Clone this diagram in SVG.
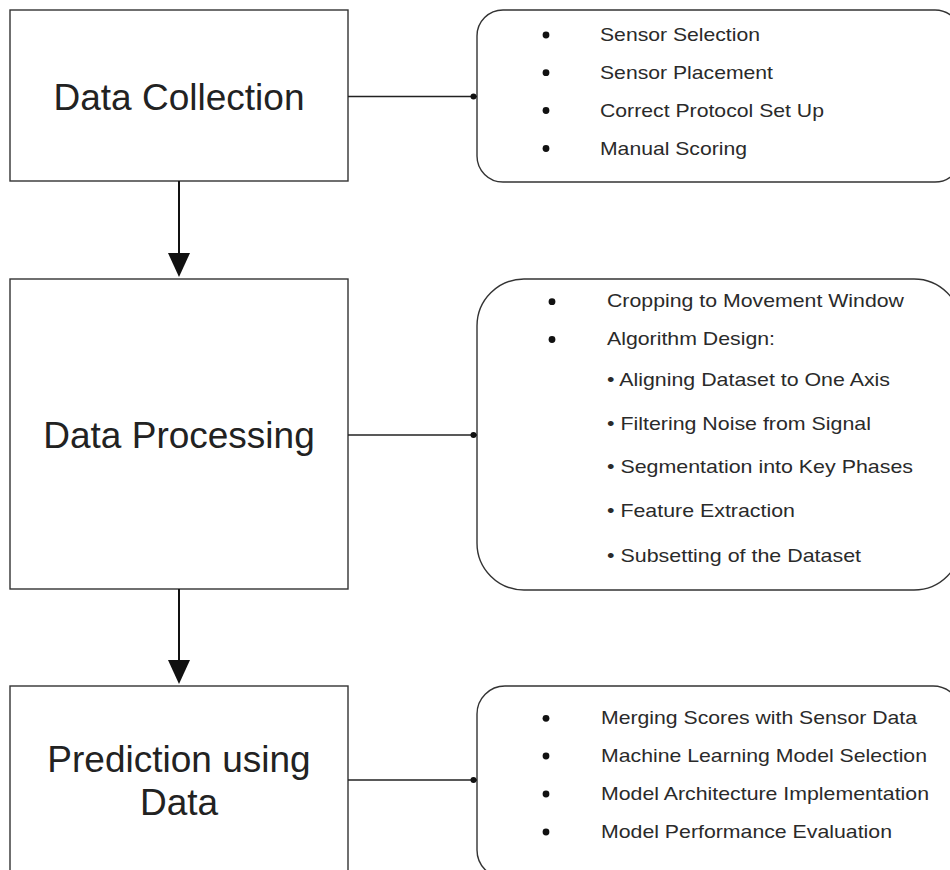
<svg xmlns="http://www.w3.org/2000/svg" width="950" height="870" viewBox="0 0 950 870">
  <style>
    .box { fill: #ffffff; stroke: #333333; stroke-width: 1.4; }
    .title { font-family: "Liberation Sans", Arial, sans-serif; font-size: 37px; fill: #222222; text-anchor: middle; }
    .item { font-family: "Liberation Sans", Arial, sans-serif; font-size: 19px; fill: #2a2a2a; }
    .link { stroke: #222222; stroke-width: 1.4; fill: none; }
    .flow { stroke: #111111; stroke-width: 2; fill: none; }
    .dot { fill: #111111; }
    .head { fill: #111111; }
  </style>

  <!-- left process boxes -->
  <g id="data-collection">
    <rect class="box" x="10" y="10" width="338" height="171"/>
    <text class="title" x="179" y="110">Data Collection</text>
  </g>
  <g id="data-processing">
    <rect class="box" x="10" y="279" width="338" height="310"/>
    <text class="title" x="179" y="448">Data Processing</text>
  </g>
  <g id="prediction">
    <rect class="box" x="10" y="686" width="338" height="190"/>
    <text class="title" x="179" y="772">Prediction using</text>
    <text class="title" x="179" y="815">Data</text>
  </g>

  <!-- detail panels -->
  <g id="collection-details">
    <rect class="box" x="477" y="10" width="484" height="172" rx="26" ry="26"/>
    <g class="dot">
      <circle cx="546" cy="35" r="3.4"/>
      <circle cx="546" cy="72.7" r="3.4"/>
      <circle cx="546" cy="110.5" r="3.4"/>
      <circle cx="546" cy="148.5" r="3.4"/>
    </g>
    <text class="item" x="600" y="40.7" textLength="160" lengthAdjust="spacingAndGlyphs">Sensor Selection</text>
    <text class="item" x="600" y="78.7" textLength="173" lengthAdjust="spacingAndGlyphs">Sensor Placement</text>
    <text class="item" x="600" y="116.7" textLength="224" lengthAdjust="spacingAndGlyphs">Correct Protocol Set Up</text>
    <text class="item" x="600" y="154.5" textLength="147" lengthAdjust="spacingAndGlyphs">Manual Scoring</text>
  </g>

  <g id="processing-details">
    <rect class="box" x="477" y="279" width="484" height="311" rx="47" ry="47"/>
    <g class="dot">
      <circle cx="552" cy="301.7" r="3.4"/>
      <circle cx="552" cy="339.5" r="3.4"/>
    </g>
    <text class="item" x="607" y="306.7" textLength="297" lengthAdjust="spacingAndGlyphs">Cropping to Movement Window</text>
    <text class="item" x="607" y="345" textLength="168" lengthAdjust="spacingAndGlyphs">Algorithm Design:</text>
    <text class="item" x="607" y="386" textLength="283" lengthAdjust="spacingAndGlyphs">• Aligning Dataset to One Axis</text>
    <text class="item" x="607" y="430" textLength="264" lengthAdjust="spacingAndGlyphs">• Filtering Noise from Signal</text>
    <text class="item" x="607" y="473" textLength="306" lengthAdjust="spacingAndGlyphs">• Segmentation into Key Phases</text>
    <text class="item" x="607" y="517" textLength="188" lengthAdjust="spacingAndGlyphs">• Feature Extraction</text>
    <text class="item" x="607" y="561.7" textLength="254" lengthAdjust="spacingAndGlyphs">• Subsetting of the Dataset</text>
  </g>

  <g id="prediction-details">
    <rect class="box" x="477" y="686" width="484" height="192" rx="28" ry="28"/>
    <g class="dot">
      <circle cx="546" cy="718.3" r="3.4"/>
      <circle cx="546" cy="756" r="3.4"/>
      <circle cx="546" cy="794" r="3.4"/>
      <circle cx="546" cy="832" r="3.4"/>
    </g>
    <text class="item" x="601" y="724" textLength="316" lengthAdjust="spacingAndGlyphs">Merging Scores with Sensor Data</text>
    <text class="item" x="601" y="762.3" textLength="326" lengthAdjust="spacingAndGlyphs">Machine Learning Model Selection</text>
    <text class="item" x="601" y="800" textLength="328" lengthAdjust="spacingAndGlyphs">Model Architecture Implementation</text>
    <text class="item" x="601" y="838.3" textLength="291" lengthAdjust="spacingAndGlyphs">Model Performance Evaluation</text>
  </g>

  <!-- connectors: vertical flow arrows and side links ending in a dot -->
  <g id="connectors">
    <line class="flow" x1="179" y1="181" x2="179" y2="256"/>
    <path class="head" d="M168,253 L190,253 L179,277 Z"/>
    <line class="flow" x1="179" y1="589" x2="179" y2="663"/>
    <path class="head" d="M168,660 L190,660 L179,684 Z"/>

    <line class="link" x1="348" y1="96.5" x2="477" y2="96.5"/>
    <circle class="dot" cx="473.5" cy="96.5" r="3"/>
    <line class="link" x1="348" y1="435" x2="477" y2="435"/>
    <circle class="dot" cx="473.5" cy="435" r="3"/>
    <line class="link" x1="348" y1="780" x2="477" y2="780"/>
    <circle class="dot" cx="473.5" cy="780" r="3"/>
  </g>
</svg>
